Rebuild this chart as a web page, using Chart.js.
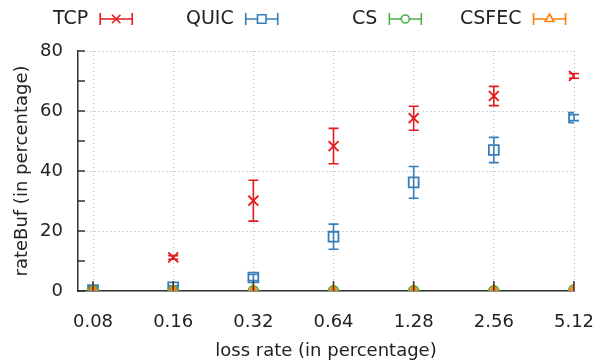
<!DOCTYPE html>
<html>
<head>
<meta charset="utf-8">
<script src="https://cdn.jsdelivr.net/npm/chart.js@4"></script>
<style>
  html, body { margin: 0; padding: 0; background: #fff; }
</style>
</head>
<body>
<canvas id="chart" width="597" height="363"></canvas>
<script>
const lossRates = ['0.08', '0.16', '0.32', '0.64', '1.28', '2.56', '5.12'];

const tcp     = [0,   11.2, 30.1, 48.3, 57.6, 65.0, 71.7];
const tcpErr  = [0,   0.6,  6.8,  5.9,  4.0,  3.2,  0.8];
const quic    = [0.3, 1.2,  4.5,  18.1, 36.2, 47.0, 57.8];
const quicErr = [0.2, 0.5,  1.0,  4.2,  5.3,  4.2,  1.0];
const cs      = [0,   0,    0,    0,    0,    0,    0.4];
const csErr   = [0,   0,    0,    0,    0,    0,    0];
const csfec   = [0,   0,    0,    0,    0,    0,    0.4];
const csfecErr = [0,  0,    0,    0,    0,    0,    0];

const yTicks = [0, 10, 20, 30, 40, 50, 60, 70, 80];

const FONT = "'DejaVu Sans', sans-serif";
Chart.defaults.font.family = FONT;
Chart.defaults.font.size = 18;
Chart.defaults.color = '#222';

const series = [
    { label: 'TCP',   data: tcp,   err: tcpErr,   color: '#e41a1c', style: 'crossRot', radius: 7, fill: 'rgba(0,0,0,0)', order: 3 },
    { label: 'QUIC',  data: quic,  err: quicErr,  color: '#377eb8', style: 'rect',     radius: 7, fill: 'rgba(0,0,0,0)', order: 2 },
    { label: 'CS',    data: cs,    err: csErr,    color: '#4daf4a', style: 'circle',   radius: 5, fill: 'rgba(0,0,0,0)', order: 1 },
    { label: 'CSFEC', data: csfec, err: csfecErr, color: '#ff7f00', style: 'triangle', radius: 6, fill: '#ff8c1a', order: 0 }
];

// error bars under the markers
const errorBars = {
    id: 'errorBars',
    beforeDatasetsDraw(chart) {
        const ctx = chart.ctx;
        const y = chart.scales.y;
        series.forEach((s, di) => {
            const meta = chart.getDatasetMeta(di);
            ctx.save();
            ctx.strokeStyle = s.color;
            ctx.lineWidth = 1.6;
            meta.data.forEach((pt, i) => {
                const e = s.err[i];
                if (!e) return;
                const top = y.getPixelForValue(s.data[i] + e);
                const bot = y.getPixelForValue(s.data[i] - e);
                ctx.beginPath();
                ctx.moveTo(pt.x, top); ctx.lineTo(pt.x, bot);
                ctx.moveTo(pt.x - 5, top); ctx.lineTo(pt.x + 5, top);
                ctx.moveTo(pt.x - 5, bot); ctx.lineTo(pt.x + 5, bot);
                ctx.stroke();
            });
            ctx.restore();
        });
    }
};

// gnuplot style inward ticks
const innerTicks = {
    id: 'innerTicks',
    afterDraw(chart) {
        const ctx = chart.ctx;
        const { left, bottom } = chart.chartArea;
        const x = chart.scales.x, y = chart.scales.y;
        ctx.save();
        ctx.strokeStyle = '#333';
        ctx.lineWidth = 1.5;
        ctx.beginPath();
        yTicks.forEach(v => {
            const py = y.getPixelForValue(v);
            ctx.moveTo(left, py); ctx.lineTo(left + 7, py);
        });
        lossRates.forEach((_, i) => {
            const px = x.getPixelForValue(i);
            ctx.moveTo(px, bottom); ctx.lineTo(px, bottom - 10);
        });
        ctx.stroke();
        ctx.restore();
    }
};

// legend on top: label then symbol
const legendTop = {
    id: 'legendTop',
    afterDraw(chart) {
        const ctx = chart.ctx;
        const starts = [53, 186, 352, 460];
        const cy = 19;
        ctx.save();
        ctx.font = '19px ' + FONT;
        ctx.textBaseline = 'middle';
        series.forEach((s, i) => {
            ctx.fillStyle = '#222';
            ctx.fillText(s.label, starts[i], cy);
            const x1 = starts[i] + ctx.measureText(s.label).width + 12;
            const x2 = x1 + 32;
            ctx.strokeStyle = s.color;
            ctx.lineWidth = 1.6;
            ctx.beginPath();
            ctx.moveTo(x1, cy); ctx.lineTo(x2, cy);
            ctx.moveTo(x1, cy - 6); ctx.lineTo(x1, cy + 6);
            ctx.moveTo(x2, cy - 6); ctx.lineTo(x2, cy + 6);
            ctx.stroke();
            ctx.fillStyle = '#fff';
            Chart.helpers.drawPoint(ctx, { pointStyle: s.style, radius: s.radius - 1, rotation: 0, borderWidth: 1.6 }, (x1 + x2) / 2, cy);
        });
        ctx.restore();
    }
};

new Chart(document.getElementById('chart'), {
    type: 'scatter',
    data: {
        datasets: series.map(s => ({
            label: s.label,
            data: s.data.map((v, i) => ({ x: i, y: v })),
            order: s.order,
            pointStyle: s.style,
            pointRadius: s.radius,
            pointBorderWidth: 1.8,
            borderColor: s.color,
            backgroundColor: s.fill,
            showLine: false
        }))
    },
    options: {
        responsive: false,
        animation: false,
        devicePixelRatio: 1,
        layout: { padding: { top: 51, right: 23, left: 0, bottom: 0 } },
        plugins: { legend: { display: false }, tooltip: { enabled: false } },
        scales: {
            x: {
                type: 'linear',
                min: -0.1875,
                max: 6,
                afterBuildTicks: s => { s.ticks = lossRates.map((_, i) => ({ value: i })); },
                afterFit: s => { s.height = 72; s.paddingLeft = 0; s.paddingRight = 0; },
                ticks: { callback: v => lossRates[v], padding: 21, maxRotation: 0 },
                grid: { color: '#b0b0b0', lineWidth: 1, drawTicks: false },
                border: { color: '#333', width: 1.5, dash: [1, 3] },
                title: { display: true, text: 'loss rate (in percentage)', padding: { top: 0, bottom: 1 } }
            },
            y: {
                min: 0,
                max: 80,
                afterBuildTicks: s => { s.ticks = yTicks.map(v => ({ value: v })); },
                afterFit: s => { s.width = 78; },
                ticks: { callback: v => (v % 20 === 0 ? v : ''), padding: 15 },
                grid: {
                    color: c => (c.tick && c.tick.value % 20 === 0 ? '#b0b0b0' : 'rgba(0,0,0,0)'),
                    lineWidth: 1,
                    drawTicks: false
                },
                border: { color: '#333', width: 1.5, dash: [1, 3] },
                title: { display: true, text: 'rateBuf (in percentage)', padding: { top: 12, bottom: 0 } }
            }
        }
    },
    plugins: [errorBars, innerTicks, legendTop]
});
</script>
</body>
</html>
